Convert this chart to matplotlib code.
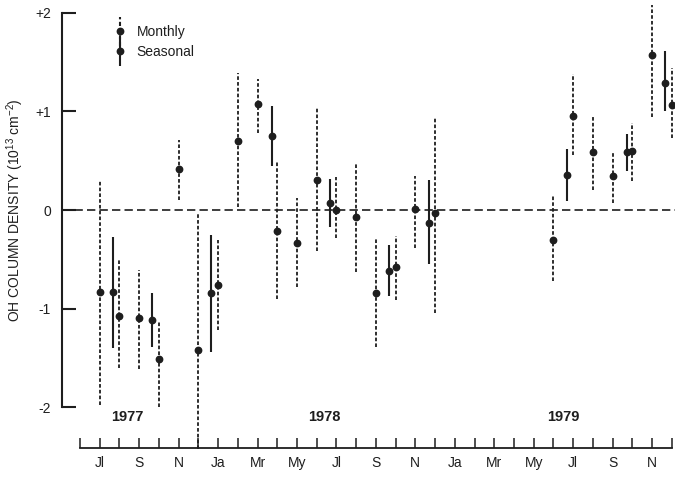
import matplotlib
matplotlib.use("Agg")
import matplotlib.pyplot as plt
from matplotlib.legend_handler import HandlerErrorbar
from matplotlib.collections import LineCollection
import numpy as np

plt.rcParams['font.family'] = ['Liberation Sans', 'DejaVu Sans']
plt.rcParams['mathtext.default'] = 'regular'

# Time axis: months counted from June 1977 (0) to December 1979 (30)
month_ticks = list(range(0, 31))
month_labels = ['', 'Jl', '', 'S', '', 'N', '', 'Ja', '', 'Mr', '', 'My',
                '', 'Jl', '', 'S', '', 'N', '', 'Ja', '', 'Mr', '', 'My',
                '', 'Jl', '', 'S', '', 'N', '']
year_labels = ['1977', '1978', '1979']
year_pos = [2.4, 12.4, 24.5]

y_ticks = [-2, -1, 0, 1, 2]
y_tick_labels = ['-2', '-1', '0', '+1', '+2']

# Monthly means with their ranges (10^13 cm^-2)
monthly_x = [1, 2, 3, 4, 5, 6, 7, 8, 9, 10, 11, 12, 13, 14, 15, 16, 17, 18,
             24, 25, 26, 27, 28, 29, 30]
monthly_y = [-0.83, -1.07, -1.09, -1.51, 0.42, -1.42, -0.76, 0.70, 1.07, -0.21,
             -0.33, 0.30, 0.00, -0.07, -0.84, -0.58, 0.01, -0.03,
             -0.30, 0.955, 0.59, 0.345, 0.60, 1.57, 1.06]
monthly_lo = [-1.98, -1.60, -1.61, -2.00, 0.10, -2.42, -1.22, 0.03, 0.78, -0.90,
              -0.78, -0.42, -0.28, -0.625, -1.39, -0.91, -0.38, -1.04,
              -0.72, 0.56, 0.20, 0.07, 0.29, 0.94, 0.73]
monthly_hi = [0.29, -0.51, -0.61, -1.13, 0.71, -0.03, -0.30, 1.385, 1.33, 0.50,
              0.12, 1.03, 0.33, 0.48, -0.29, -0.26, 0.34, 0.93,
              0.15, 1.38, 0.945, 0.60, 0.885, 2.08, 1.44]

# Seasonal means with their ranges
seasonal_x = [1.65, 3.67, 6.65, 9.75, 12.67, 15.66, 17.69, 24.7, 27.74, 29.65]
seasonal_y = [-0.83, -1.11, -0.84, 0.75, 0.074, -0.62, -0.13, 0.355, 0.585, 1.29]
seasonal_lo = [-1.40, -1.39, -1.44, 0.45, -0.17, -0.87, -0.55, 0.09, 0.40, 1.00]
seasonal_hi = [-0.27, -0.84, -0.25, 1.05, 0.31, -0.355, 0.30, 0.62, 0.77, 1.61]

ink = '#1e1e1e'
dotted = (0, (2, 1.2))

fig = plt.figure(figsize=(6.75, 4.79), dpi=100)
ax = fig.add_axes([62 / 675, 0.0, 613 / 675, 1.0])
ax.set_xlim(-0.912, 30.16)
ax.set_ylim(-2.725, 2.128)

my = np.array(monthly_y)
m_err = [my - np.array(monthly_lo), np.array(monthly_hi) - my]
eb_m = ax.errorbar(monthly_x, monthly_y, yerr=m_err, fmt='o', color=ink,
                   ms=4.6, elinewidth=1.3, capsize=0, label='Monthly', zorder=3)
eb_m[2][0].set_linestyle(dotted)

sy = np.array(seasonal_y)
s_err = [sy - np.array(seasonal_lo), np.array(seasonal_hi) - sy]
eb_s = ax.errorbar(seasonal_x, seasonal_y, yerr=s_err, fmt='o', color=ink,
                   ms=4.6, elinewidth=1.5, capsize=0, label='Seasonal', zorder=3)

# Zero reference line
ax.axhline(0, color=ink, lw=1.2, linestyle=(0, (5, 2.5)), zorder=1)

# Axis styling
for s in ['top', 'right']:
    ax.spines[s].set_visible(False)
ax.spines['left'].set_bounds(-2, 2)
ax.spines['left'].set_linewidth(1.5)
ax.spines['left'].set_color(ink)
ax.spines['bottom'].set_position(('data', -2.41))
ax.spines['bottom'].set_bounds(0, 30)
ax.spines['bottom'].set_linewidth(1.3)
ax.spines['bottom'].set_color(ink)

ax.set_yticks(y_ticks)
ax.set_yticklabels(y_tick_labels)
ax.tick_params(axis='y', direction='in', length=10, width=1.5, pad=8,
               labelsize=10, colors=ink)
ax.set_xticks(month_ticks)
ax.set_xticklabels(month_labels)
ax.tick_params(axis='x', direction='in', length=7.2, width=1.1, pad=6,
               labelsize=10, colors=ink)

for lbl, xp in zip(year_labels, year_pos):
    ax.text(xp, -2.1, lbl, ha='center', va='center', fontsize=10.5,
            fontweight='bold', color=ink)

ax.text(-0.077, 0.5616, 'OH COLUMN DENSITY (10$^{13}$ cm$^{-2}$)',
        transform=ax.transAxes, rotation=90, ha='center', va='center',
        fontsize=10, color=ink)

leg = ax.legend(handles=[eb_m, eb_s], loc='upper left',
                bbox_to_anchor=(113 / 675, 1 - 25 / 479),
                bbox_transform=fig.transFigure, frameon=False, fontsize=10,
                handlelength=1.0, handletextpad=0.7, labelspacing=0.45,
                borderpad=0, borderaxespad=0,
                handler_map={type(eb_m): HandlerErrorbar(yerr_size=1.05)})
for t in leg.get_texts():
    t.set_color(ink)
leg_bars = leg.findobj(LineCollection)
if leg_bars:
    leg_bars[0].set_linestyle(dotted)

fig.savefig('out.png', dpi=100)
